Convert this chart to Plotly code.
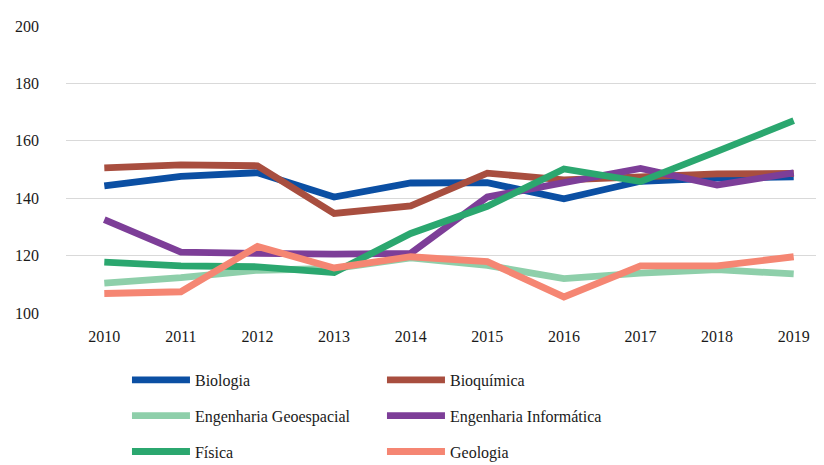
import plotly.graph_objects as go

# ── 데이터 ─────────────────────────────────────────────
anos = ["2010", "2011", "2012", "2013", "2014", "2015", "2016", "2017", "2018", "2019"]

biologia = [144.3, 147.6, 148.9, 140.4, 145.3, 145.4, 139.8, 145.9, 147.0, 147.4]
bioquimica = [150.6, 151.6, 151.3, 134.7, 137.3, 148.7, 146.4, 147.4, 148.5, 148.6]
eng_geoespacial = [110.4, 112.3, 114.9, 115.5, 119.2, 116.6, 112.0, 113.9, 115.1, 113.6]
eng_informatica = [132.5, 121.2, 120.8, 120.5, 120.8, 140.4, 145.4, 150.4, 144.6, 148.8]
fisica = [117.7, 116.4, 116.1, 114.1, 127.7, 137.2, 150.2, 145.8, 156.3, 167.0]
geologia = [106.8, 107.4, 123.2, 115.7, 119.6, 117.9, 105.6, 116.4, 116.4, 119.6]

SERIES = [
    ("Biologia", biologia, "#0b4fa3", "legend"),
    ("Bioquímica", bioquimica, "#a84e3f", "legend2"),
    ("Engenharia Geoespacial", eng_geoespacial, "#8ecfaa", "legend"),
    ("Engenharia Informática", eng_informatica, "#7d3e98", "legend2"),
    ("Física", fisica, "#2ba76f", "legend"),
    ("Geologia", geologia, "#f58673", "legend2"),
]

FONT = "Liberation Serif"
TXT = "#1a1a1a"

fig = go.Figure()
for i, (nome, vals, cor, leg) in enumerate(SERIES):
    fig.add_trace(go.Scatter(
        x=anos, y=vals, name=nome,
        mode="lines",
        line=dict(color=cor, width=6.8),
        legend=leg,
        legendgroup=f"g{i}",
    ))

# 범례: 2열 × 3행 (플롯 영역 기준, 그림 안에 들어가도록 조금 위로)
leg_common = dict(
    xanchor="left", yanchor="top",
    y=-0.1742,
    orientation="v",
    tracegroupgap=12,
    itemwidth=58,
    font=dict(family=FONT, size=16, color=TXT),
    bgcolor="rgba(0,0,0,0)",
)

fig.update_layout(
    width=824, height=465,
    paper_bgcolor="white", plot_bgcolor="white",
    margin=dict(l=58, r=0, t=18, b=160),
    font=dict(family=FONT, size=16, color=TXT),
    xaxis=dict(
        type="category", range=[-0.5, len(anos) - 0.5],
        showgrid=False, zeroline=False, showline=False,
        ticks="", ticklabelstandoff=12, tickangle=0,
        tickfont=dict(family=FONT, size=16, color=TXT),
    ),
    yaxis=dict(
        range=[100, 200], dtick=20,
        showgrid=True, gridcolor="#d9d9d9", gridwidth=1.3,
        zeroline=False, showline=False,
        ticks="", ticklabelstandoff=26,
        tickfont=dict(family=FONT, size=16, color=TXT),
    ),
    legend=dict(x=0.0796, **leg_common),
    legend2=dict(x=0.4125, **leg_common),
)

fig.write_html("out.html")
